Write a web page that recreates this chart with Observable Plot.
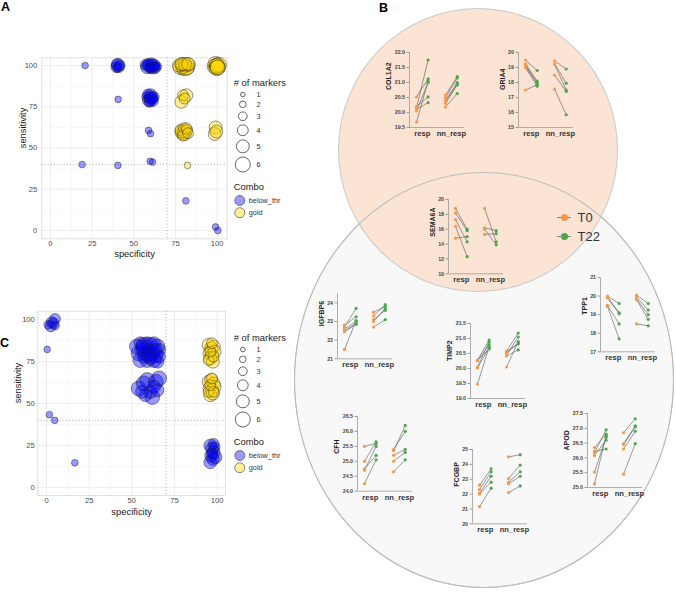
<!DOCTYPE html>
<html><head><meta charset="utf-8">
<script src="https://cdn.jsdelivr.net/npm/d3@7"></script>
<script src="https://cdn.jsdelivr.net/npm/@observablehq/plot@0.6"></script>
<style>
body{margin:0;background:#fff;font-family:"Liberation Sans",Arial,sans-serif;}
#root{position:relative;width:676px;height:595px;overflow:hidden;background:#fff;}
.abs{position:absolute;}
.lbl{position:absolute;font-weight:bold;font-size:12.5px;line-height:12.5px;color:#000;}
.venn{position:absolute;border-radius:50%;box-sizing:border-box;}
</style></head><body><div id="root"></div>
<script>
// ---------- data: panel A (specificity, sensitivity, # of markers) ----------
const aBelow = [
 [20.8,100,2],[40.6,79.5,2],[58.8,60.7,2],[60,58.7,2],[19,40,2],[40.4,39.5,2],[59.8,42,2],[61.2,41.5,2],[81.2,18,2],[99,2.2,2],[100.4,0,2],
 [39.5,99,4],[40.5,100.5,5],[41,99,4],[40,98.5,3],[41.5,100,4],[39.8,100.8,4],
 [57,100.5,4],[58,99,5],[59,100,5],[60,98.5,4],[61,100,5],[62,99,4],[63,98.5,4],[64,99.5,3],[58.5,101,4],[60.5,100.8,5],[62.5,100.5,4],[61.5,98.8,5],[59.5,98.2,3],
 [58,81,4],[59,79,5],[60,82,5],[61,80,4],[62,81,4],[59.5,78,4],[60.5,80.5,5],[61.5,78.5,4],[58.5,82.5,4],[60,79.5,5]
];
const aGold = [
 [77,100,5],[78,99,6],[79,101,5],[80,98.5,6],[81,100,5],[82,99,6],[83,100.5,5],[79.5,99.5,6],[80.5,101,5],[81.5,98.5,6],[78.5,100.8,5],[82.5,101,5],
 [98.5,99.5,6],[99,101,6],[99.5,98.5,6],[100,100,6],[100.5,99,6],[101,100.5,6],[99.8,99.8,6],[100.2,98.8,6],
 [79.5,82,4],[81.5,82,5],[78.5,78,5],[80.5,80,4],
 [78,61,4],[79,59,5],[80,62,4],[81,60,5],[82,61,4],[79.5,57.5,4],[80.5,58.5,5],[81.5,62,4],[78.5,60,5],[82.5,59,4],[80,60,5],
 [99,62.5,5],[98.5,58.5,5],[99.5,60,5],
 [82.2,39.5,2]
];
// ---------- data: panel C ----------
const cBelow = [
 [1,97,3],[2.5,96,4],[4,98,4],[5,100.5,4],[5,96.5,3],[3,98.5,4],
 [0.4,82.3,2],[1.7,43.4,2],[4.8,40,2],[16.6,14.7,2],
 [53,84,6],[55,86,5],[57,85,6],[59,86,5],[61,85,6],[63,86,5],[65,84,6],[66,82,5],[54,80,6],[56,82,5],[58,80,6],[60,82,5],
 [62,80,6],[64,82,5],[66,78,5],[55,76,6],[57,78,5],[59,76,6],[61,77,5],[63,76,6],[65,75,5],[60,79,6],[56,84,5],[64,79,6],
 [54,59,6],[56,57,5],[57,62,6],[58,55,5],[59,64,6],[61,57,5],[62,54,6],[63,60,5],[64,63,6],[65,58,5],[66,65,6],
 [96,25,5],[97,23,5],[98,21,5],[96.5,19,5],[97.5,17,5],[96,15,5],[98.5,24,4],[97,20,4],[99,18,5],[98,26,4]
];
const cGold = [
 [95,85,5],[96.5,83,5],[98,84,5],[95.5,80,5],[97,79,5],[98.5,81,5],[96,77,5],[97.5,75,5],[95,76,4],[98,78,4],[96,81,4],[97,86,4],
 [95,63,5],[96.5,64,5],[98,62,5],[95.5,59,5],[97,58,5],[98.5,60,5],[96,55,5],[97.5,56,5],[95,57,4],[98,57,4],[96,61,4],[97,65,4]
];
const combos = ["below_thr","gold"];
const legendSizes = [1,2,3,4,5,6];
const scatterTicks = [0,25,50,75,100];
const scatterMinor = [12.5,37.5,62.5,87.5];

// ---------- data: panel B (pairs [T0, T22]) ----------
const times = ["T0","T22"];
const groups = ["resp","nn_resp"];
const COL1A2_resp = [[20.52,21.12],[20.2,20.52],[20.15,21.75],[20.1,20.33],[20.05,21.0],[19.68,21.05]];
const COL1A2_nn   = [[20.58,21.2],[20.5,21.15],[20.42,20.95],[20.35,21.0],[20.3,20.92],[20.18,20.63]];
const GRIA4_resp  = [[19.5,18.8],[19.25,18.1],[19.2,17.9],[19.05,18.0],[19.0,17.75],[17.5,17.85]];
const GRIA4_nn    = [[19.45,18.9],[19.25,17.95],[19.2,17.5],[18.5,17.4],[17.55,15.85]];
const SEMA6A_resp = [[18.8,16.0],[18.2,15.8],[17.3,14.3],[16.4,12.3],[14.8,15.0]];
const SEMA6A_nn   = [[18.8,14.3],[16.2,15.8],[16.0,13.9],[15.3,15.4]];
const IGFBP6_resp = [[22.8,23.25],[22.7,23.7],[22.6,23.0],[22.5,22.9],[22.45,22.85],[21.5,23.05]];
const IGFBP6_nn   = [[23.5,23.8],[23.3,23.9],[23.1,23.6],[23.0,23.7],[22.7,23.1]];
const TIMP2_resp  = [[20.28,20.95],[20.25,20.8],[20.05,20.88],[20.02,20.68],[19.48,20.72],[20.27,20.65]];
const TIMP2_nn    = [[20.58,21.18],[20.52,20.85],[20.45,21.05],[20.42,20.62],[20.05,20.9],[20.55,20.82]];
const TPP1_resp   = [[20.0,19.6],[19.95,19.1],[19.9,19.05],[19.5,18.5],[19.45,17.7]];
const TPP1_nn     = [[20.05,19.6],[19.95,19.25],[19.85,19.0],[19.8,18.75],[18.5,18.4]];
const CFH_resp    = [[25.5,25.6],[25.0,25.65],[24.75,25.2],[24.7,25.5],[24.25,25.05]];
const CFH_nn      = [[25.4,26.0],[25.35,26.2],[25.2,25.4],[25.0,25.3],[24.65,25.05]];
const FCGBP_resp  = [[22.6,23.7],[22.3,23.5],[22.05,23.2],[22.0,22.8],[21.15,22.4]];
const FCGBP_nn    = [[24.5,24.65],[23.05,23.95],[22.8,23.5],[22.7,23.2],[22.1,22.55]];
const APOD_resp   = [[26.35,26.8],[26.22,26.3],[26.18,26.95],[26.08,26.6],[25.52,26.7],[25.12,26.75]];
const APOD_nn     = [[26.85,27.32],[26.48,27.08],[26.45,27.05],[26.3,26.9],[25.45,26.48]];

// ---------- styles / layout ----------
const FONT = "Liberation Sans, Arial, sans-serif";
const comboColors = ["#0000FF","#FFD700"];
const timeColors = ["#F7994A","#4EA64E"];
const rRange = [2.3,7.5];
const rScale = {type:"linear", domain:[1,6], range:rRange};
const root = document.getElementById("root");

function place(node, left, top, w){
  const d = document.createElement("div");
  d.className = "abs"; d.style.left = left+"px"; d.style.top = top+"px";
  if (w) d.style.width = w+"px";
  d.appendChild(node); root.appendChild(d); return d;
}
function ellipse(cx, cy, rx, ry, bg, border){
  const d = document.createElement("div"); d.className = "venn";
  Object.assign(d.style,{left:(cx-rx)+"px",top:(cy-ry)+"px",width:2*rx+"px",height:2*ry+"px",background:bg,border:border});
  root.appendChild(d);
}
function label(t, left, top){
  const d = document.createElement("div"); d.className="lbl"; d.textContent=t;
  d.style.left=left+"px"; d.style.top=top+"px"; root.appendChild(d);
}
const svgStyle = {background:"transparent", overflow:"visible", fontFamily:FONT, maxWidth:"none"};

function scatter(below, gold, L){
  const data = [...below.map(([x,y,n])=>({x,y,n,combo:combos[0]})), ...gold.map(([x,y,n])=>({x,y,n,combo:combos[1]}))];
  return Plot.plot({
    width:L.w, height:L.h, marginLeft:L.ml, marginRight:L.mr, marginTop:L.mt, marginBottom:L.mb,
    x:{domain:L.xd}, y:{domain:L.yd}, r:rScale,
    color:{domain:combos, range:comboColors},
    style:svgStyle,
    marks:[
      Plot.gridX(scatterMinor,{stroke:"#f4f4f4",strokeOpacity:1,strokeWidth:0.6}),
      Plot.gridY(scatterMinor,{stroke:"#f4f4f4",strokeOpacity:1,strokeWidth:0.6}),
      Plot.gridX(scatterTicks,{stroke:"#e8e8e8",strokeOpacity:1,strokeWidth:0.8}),
      Plot.gridY(scatterTicks,{stroke:"#e8e8e8",strokeOpacity:1,strokeWidth:0.8}),
      Plot.frame({stroke:"#e0e0e0"}),
      Plot.ruleX([70],{stroke:"#aaa",strokeDasharray:"1,2.2",strokeWidth:0.9}),
      Plot.ruleY([40],{stroke:"#aaa",strokeDasharray:"1,2.2",strokeWidth:0.9}),
      Plot.dot(data,{x:"x",y:"y",r:"n",fill:"combo",fillOpacity:0.4,stroke:"#1a1a1a",strokeOpacity:0.75,strokeWidth:0.6}),
      Plot.axisX(scatterTicks,{tickSize:0,tickPadding:L.px,fontSize:7.6,color:"#4d4d4d",label:null}),
      Plot.axisY(scatterTicks,{tickSize:0,tickPadding:L.py,fontSize:7.6,color:"#4d4d4d",label:null}),
      Plot.text(["specificity"],{frameAnchor:"bottom",lineAnchor:"middle",dy:L.xl,fontSize:9.4,fill:"#1a1a1a"}),
      Plot.text(["sensitivity"],{frameAnchor:"left",lineAnchor:"middle",rotate:-90,dx:L.yl,fontSize:9.4,fill:"#1a1a1a"})
    ]
  });
}

function markerLegend(){
  const rr = d3.scaleLinear(rScale.domain, rRange);
  const gap = 4.2; let c = 22; const ys = [];
  legendSizes.forEach((n,i)=>{ if(i>0) c += rr(legendSizes[i-1]) + rr(n) + gap; ys.push(c); });
  const cy0 = c + 36, cstep = 12.2;
  return Plot.plot({
    width:80, height:150, margin:0,
    x:{domain:[0,80], range:[0,80], axis:null}, y:{domain:[0,150], range:[0,150], axis:null},
    r:rScale, color:{domain:combos, range:comboColors}, style:svgStyle,
    marks:[
      Plot.text(["# of markers"],{x:()=>5.3,y:()=>10,textAnchor:"start",fontSize:9.4,fill:"#1a1a1a"}),
      Plot.dot(legendSizes,{x:()=>14.3,y:(d,i)=>ys[i],r:d=>d,fill:"none",stroke:"#222",strokeWidth:0.7}),
      Plot.text(legendSizes,{x:()=>28,y:(d,i)=>ys[i],text:d=>String(d),textAnchor:"start",fontSize:7.3,fill:"#333"}),
      Plot.text(["Combo"],{x:()=>5.3,y:()=>cy0-14,textAnchor:"start",fontSize:9.4,fill:"#1a1a1a"}),
      Plot.dot(combos,{x:()=>11.3,y:(d,i)=>cy0+i*cstep,r:5,fill:d=>d,fillOpacity:0.4,stroke:"#333",strokeWidth:0.6}),
      Plot.text(combos,{x:()=>20.3,y:(d,i)=>cy0+i*cstep,text:d=>d,textAnchor:"start",fontSize:7.3,fill:"#333"})
    ]
  });
}

const XD = [-0.44, 1.45], OFF = 0.2, ML = 40, MT = 8, MB = 22, PW = 55;
function geneChart(g){
  const pts = [], links = [];
  [g.resp, g.nn].forEach((pairs, gi) => pairs.forEach(([a,b]) => {
    pts.push({g:gi,t:times[0],v:a}); pts.push({g:gi,t:times[1],v:b});
    links.push({g:gi,a,b});
  }));
  const H = (g.yBot - g.yTop) + MT + MB;
  const dec = g.fmt === ".1f";
  const svg = Plot.plot({
    width: ML + PW + 5, height: H, marginLeft: ML, marginRight: 5, marginTop: MT, marginBottom: MB,
    x:{domain:XD}, y:{domain:g.domain}, color:{domain:times, range:timeColors}, style:svgStyle,
    marks:[
      Plot.ruleX([XD[0]],{stroke:"#9a9a9a",strokeWidth:0.8}),
      Plot.ruleY([g.domain[0]],{stroke:"#9a9a9a",strokeWidth:0.8}),
      Plot.link(links,{x1:d=>d.g-OFF,x2:d=>d.g+OFF,y1:"a",y2:"b",stroke:"#555",strokeWidth:0.6}),
      Plot.dot(pts,{x:d=>d.g+(d.t===times[0]?-OFF:OFF),y:"v",r:1.6,fill:"t"}),
      Plot.axisY(g.ticks,{tickSize:2.5,tickPadding:2,fontSize:5.3,fontWeight:"bold",tickFormat:g.fmt,stroke:"#9a9a9a",fill:"#444",label:null}),
      Plot.axisX([0,1],{tickSize:0,tickPadding:3,fontSize:7.6,fontWeight:"bold",tickFormat:i=>groups[i],fill:"#333",label:null}),
      Plot.text([g.gene],{frameAnchor:"left",rotate:-90,dx:dec?-20.5:-16,fontSize:7,fontWeight:"bold",fill:"#222"})
    ]
  });
  place(svg, g.axisX - ML, g.yTop - MT, ML + PW + 5);
}

const geneLayout = [
 {gene:"COL1A2", resp:COL1A2_resp, nn:COL1A2_nn, domain:[19.5,22], ticks:[19.5,20,20.5,21,21.5,22], fmt:".1f", axisX:409.3, yTop:51.7, yBot:126.7},
 {gene:"GRIA4", resp:GRIA4_resp, nn:GRIA4_nn, domain:[15,20], ticks:[15,16,17,18,19,20], fmt:"d", axisX:518, yTop:51.7, yBot:126.7},
 {gene:"SEMA6A", resp:SEMA6A_resp, nn:SEMA6A_nn, domain:[10,20], ticks:[10,12,14,16,18,20], fmt:"d", axisX:448.3, yTop:199, yBot:273.3},
 {gene:"IGFBP6", resp:IGFBP6_resp, nn:IGFBP6_nn, domain:[21,24.5], ticks:[21,22,23,24], fmt:"d", axisX:336.7, yTop:293, yBot:358.3},
 {gene:"TIMP2", resp:TIMP2_resp, nn:TIMP2_nn, domain:[19,21.5], ticks:[19,19.5,20,20.5,21,21.5], fmt:".1f", axisX:470, yTop:323.3, yBot:398.3},
 {gene:"TPP1", resp:TPP1_resp, nn:TPP1_nn, domain:[17,21], ticks:[17,18,19,20,21], fmt:"d", axisX:600, yTop:276.7, yBot:351},
 {gene:"CFH", resp:CFH_resp, nn:CFH_nn, domain:[24,26.5], ticks:[24,24.5,25,25.5,26,26.5], fmt:".1f", axisX:356.7, yTop:416, yBot:490.7},
 {gene:"FCGBP", resp:FCGBP_resp, nn:FCGBP_nn, domain:[20,25], ticks:[20,21,22,23,24,25], fmt:"d", axisX:471.7, yTop:449, yBot:523.3},
 {gene:"APOD", resp:APOD_resp, nn:APOD_nn, domain:[25,27.5], ticks:[25,25.5,26,26.5,27,27.5], fmt:".1f", axisX:586.7, yTop:413.3, yBot:487.3}
];

// ---------- panel B background (Venn) ----------
ellipse(484, 380, 190, 208, "#f8f8f8", "1px solid #bdbdbd");
ellipse(478, 150, 140, 142, "#fce4d5", "1px solid #c9c9c9");
ellipse(484, 380, 190, 208, "transparent", "1px solid #bdbdbd");

// ---------- panel A ----------
place(scatter(aBelow, aGold, {w:228,h:258,ml:41.3,mr:1.3,mt:57.3,mb:19.7,xd:[-5.2,106],yd:[-5,104.7],px:2,py:4.5,xl:15.5,yl:-18.6}), 0, 0, 228);
place(markerLegend(), 228, 72, 80);
// ---------- panel C ----------
place(scatter(cBelow, cGold, {w:228,h:265,ml:37.3,mr:3,mt:57.7,mb:23,xd:[-5.1,104.9],yd:[-4.8,105.1],px:2.5,py:3,xl:16,yl:-20}), 0, 253, 228);
place(markerLegend(), 228, 326.7, 80);

// ---------- panel B ----------
geneLayout.forEach(geneChart);
const legB = Plot.plot({
  width:60, height:45, marginLeft:5, marginRight:41, marginTop:0, marginBottom:0,
  y:{type:"point", domain:times, range:[11.7,30.7], padding:0, axis:null},
  color:{domain:times, range:timeColors}, style:svgStyle,
  marks:[
    Plot.tickY(times,{y:d=>d,stroke:"#777",strokeWidth:0.9}),
    Plot.dot(times,{y:d=>d,fill:d=>d,r:3.6,frameAnchor:"middle"}),
    Plot.text(times,{y:d=>d,text:d=>d,frameAnchor:"right",textAnchor:"start",dx:6,fontSize:13,fill:"#333"})
  ]
});
place(legB, 552, 205, 60);

label("A", 1, 1); label("B", 379, 2); label("C", 0, 337);
</script></body></html>
